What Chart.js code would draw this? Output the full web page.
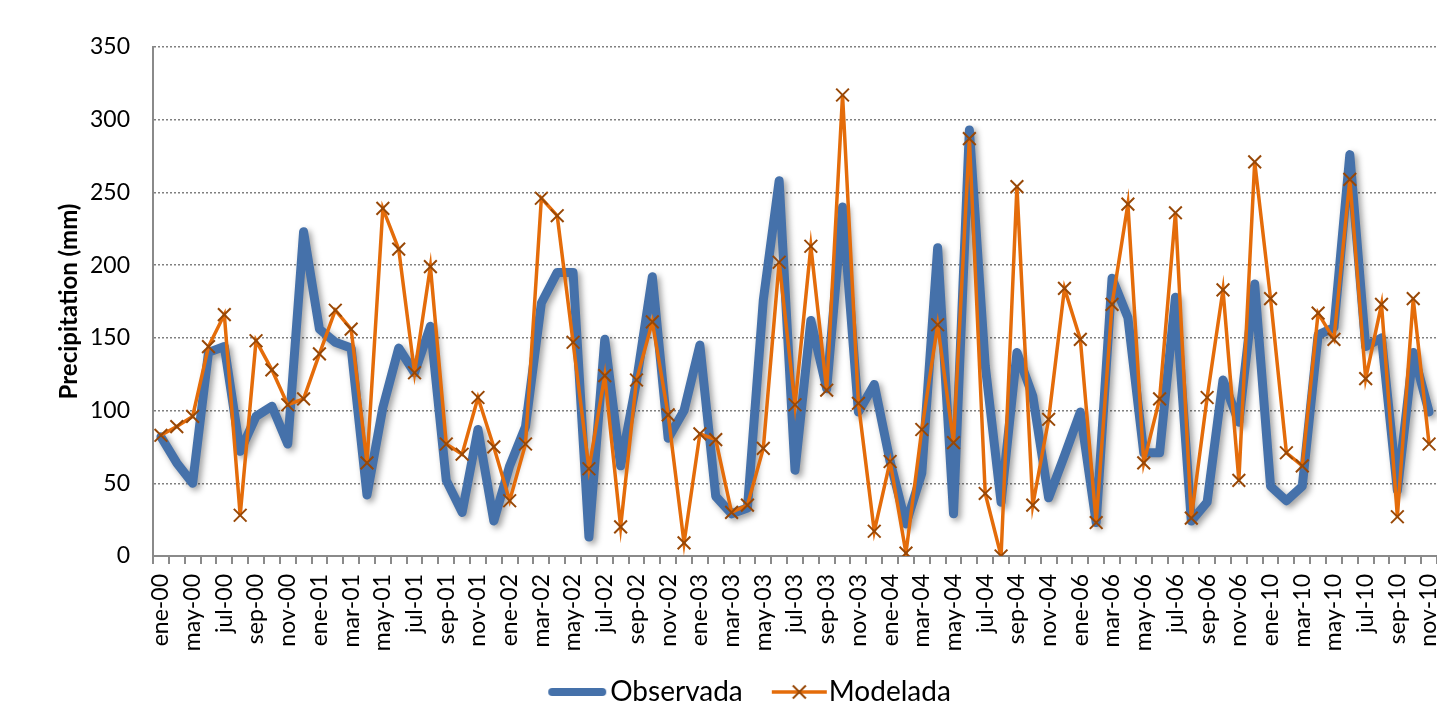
<!DOCTYPE html>
<html>
<head>
<meta charset="utf-8">
<script src="https://cdn.jsdelivr.net/npm/chart.js@4.4.1/dist/chart.umd.min.js"></script>
<style>
  html, body { margin: 0; padding: 0; background: #fff; overflow: hidden; }
  #wrap { width: 1501px; height: 709px; }
</style>
</head>
<body>
<div id="wrap"><canvas id="chart" width="1501" height="709"></canvas></div>
<script>
// Monthly categories (only every second one is labelled on the axis)
const months = [
  'ene-00','mar-00','may-00','jun-00','jul-00','ago-00','sep-00','oct-00','nov-00','dic-00',
  'ene-01','feb-01','mar-01','abr-01','may-01','jun-01','jul-01','ago-01','sep-01','oct-01','nov-01','dic-01',
  'ene-02','feb-02','mar-02','abr-02','may-02','jun-02','jul-02','ago-02','sep-02','oct-02','nov-02','dic-02',
  'ene-03','feb-03','mar-03','abr-03','may-03','jun-03','jul-03','ago-03','sep-03','oct-03','nov-03','dic-03',
  'ene-04','feb-04','mar-04','abr-04','may-04','jun-04','jul-04','ago-04','sep-04','oct-04','nov-04','dic-04',
  'ene-06','feb-06','mar-06','abr-06','may-06','jun-06','jul-06','ago-06','sep-06','oct-06','nov-06','dic-06',
  'ene-10','feb-10','mar-10','abr-10','may-10','jun-10','jul-10','ago-10','sep-10','oct-10','nov-10'
];

// Observed precipitation (mm)
const observada = [
  82, 64, 50, 140, 144, 72, 96, 103, 77, 223,
  156, 147, 143, 42, 102, 143, 126, 158, 52, 30, 87, 24,
  62, 89, 174, 195, 195, 13, 149, 62, 120, 192, 81, 100,
  145, 41, 29, 33, 176, 258, 59, 162, 115, 240, 99, 118,
  65, 22, 57, 212, 29, 293, 131, 37, 140, 110, 40, 69,
  99, 23, 191, 164, 71, 71, 178, 24, 37, 121, 92, 187,
  48, 38, 48, 152, 157, 276, 144, 150, 45, 140, 99
];

// Modelled precipitation (mm)
const modelada = [
  83, 89, 96, 144, 166, 28, 148, 128, 104, 108,
  139, 169, 156, 64, 239, 211, 126, 199, 77, 70, 109, 75,
  38, 77, 246, 234, 147, 60, 124, 20, 121, 161, 97, 9,
  84, 80, 30, 35, 74, 202, 104, 213, 114, 317, 105, 17,
  65, 2, 87, 159, 78, 287, 43, 0, 254, 35, 94, 184,
  149, 23, 173, 242, 64, 108, 236, 26, 109, 183, 52, 271,
  177, 71, 62, 167, 149, 259, 122, 173, 27, 177, 77
];

const yMin = 0, yMax = 350, yStep = 50;

const BLUE = '#4571aa';
const ORANGE = '#e46c0a';
const MARKER = '#984807';
const AXIS = '#8a8a8a';
const GRID = '#808080';
const FONT = 'Lato';

// Legend symbols: a thick line, and a line crossed by an x marker
function blueSymbol() {
  const c = document.createElement('canvas');
  c.width = 100; c.height = 12;
  const g = c.getContext('2d');
  g.strokeStyle = BLUE; g.lineWidth = 8; g.lineCap = 'round';
  g.beginPath(); g.moveTo(29, 6); g.lineTo(79, 6); g.stroke();
  return c;
}
function orangeSymbol() {
  const c = document.createElement('canvas');
  c.width = 100; c.height = 18;
  const g = c.getContext('2d');
  g.strokeStyle = ORANGE; g.lineWidth = 3.5;
  g.beginPath(); g.moveTo(30, 9); g.lineTo(85, 9); g.stroke();
  g.strokeStyle = MARKER; g.lineWidth = 2;
  g.beginPath();
  g.moveTo(51, 2.5); g.lineTo(64, 15.5);
  g.moveTo(64, 2.5); g.lineTo(51, 15.5);
  g.stroke();
  return c;
}

// Soft drop shadow under the observed series
const lineShadow = {
  id: 'lineShadow',
  beforeDatasetDraw(chart, args) {
    if (args.index !== 0) return;
    const ctx = chart.ctx;
    ctx.save();
    ctx.shadowColor = 'rgba(0,0,0,0.38)';
    ctx.shadowBlur = 6;
    ctx.shadowOffsetX = 3;
    ctx.shadowOffsetY = 3;
  },
  afterDatasetDraw(chart, args) {
    if (args.index !== 0) return;
    chart.ctx.restore();
  }
};

const blueImg = blueSymbol();
const orangeImg = orangeSymbol();

new Chart(document.getElementById('chart'), {
  type: 'line',
  data: {
    labels: months,
    datasets: [
      {
        label: 'Observada',
        data: observada,
        borderColor: BLUE,
        backgroundColor: BLUE,
        borderWidth: 9,
        borderJoinStyle: 'round',
        borderCapStyle: 'round',
        pointRadius: 0,
        tension: 0,
        order: 1
      },
      {
        label: 'Modelada',
        data: modelada,
        borderColor: ORANGE,
        backgroundColor: ORANGE,
        borderWidth: 3.5,
        pointStyle: 'crossRot',
        pointRadius: 9,
        pointBorderColor: MARKER,
        pointBorderWidth: 2,
        tension: 0,
        order: 0
      }
    ]
  },
  options: {
    responsive: false,
    devicePixelRatio: 1,
    animation: false,
    layout: { padding: { top: 47, left: 0, right: 0, bottom: -7 } },
    plugins: {
      tooltip: { enabled: false },
      legend: {
        position: 'bottom',
        labels: {
          usePointStyle: true,
          pointStyleWidth: 46,
          padding: 26,
          color: '#000',
          font: { family: FONT, size: 28 },
          generateLabels: () => [
            { text: 'Observada', pointStyle: blueImg, datasetIndex: 0, hidden: false, lineWidth: 0, fillStyle: 'transparent', strokeStyle: 'transparent' },
            { text: 'Modelada', pointStyle: orangeImg, datasetIndex: 1, hidden: false, lineWidth: 0, fillStyle: 'transparent', strokeStyle: 'transparent' }
          ]
        }
      }
    },
    scales: {
      x: {
        type: 'category',
        offset: true,
        grid: {
          display: true,
          offset: true,
          drawOnChartArea: false,
          drawTicks: true,
          tickLength: 8,
          tickColor: AXIS,
          tickWidth: 2,
          color: AXIS,
          lineWidth: 2
        },
        border: { display: true, color: AXIS, width: 2 },
        ticks: {
          autoSkip: false,
          maxRotation: 90,
          minRotation: 90,
          padding: 10,
          color: '#000',
          font: { family: FONT, size: 23 },
          callback: (v, i) => (i % 2 === 0 ? months[i] : '')
        },
        afterFit: (s) => { s.height = 96; }
      },
      y: {
        min: yMin,
        max: yMax,
        grid: {
          color: GRID,
          lineWidth: 1.5,
          drawTicks: false
        },
        border: { display: true, color: AXIS, width: 2, dash: [2, 2] },
        ticks: {
          stepSize: yStep,
          padding: 23,
          color: '#000',
          font: { family: FONT, size: 23 }
        },
        title: {
          display: true,
          text: 'Precipitation (mm)',
          color: '#000',
          font: { family: FONT, size: 24, weight: 'bold' },
          padding: { top: 55, bottom: 0 }
        },
        afterFit: (s) => { s.width = 153; }
      },
      yRight: {
        position: 'right',
        display: true,
        grid: { display: false },
        border: { display: false },
        ticks: { display: false },
        afterFit: (s) => { s.width = 64; }
      }
    }
  },
  plugins: [lineShadow]
});
</script>
</body>
</html>
